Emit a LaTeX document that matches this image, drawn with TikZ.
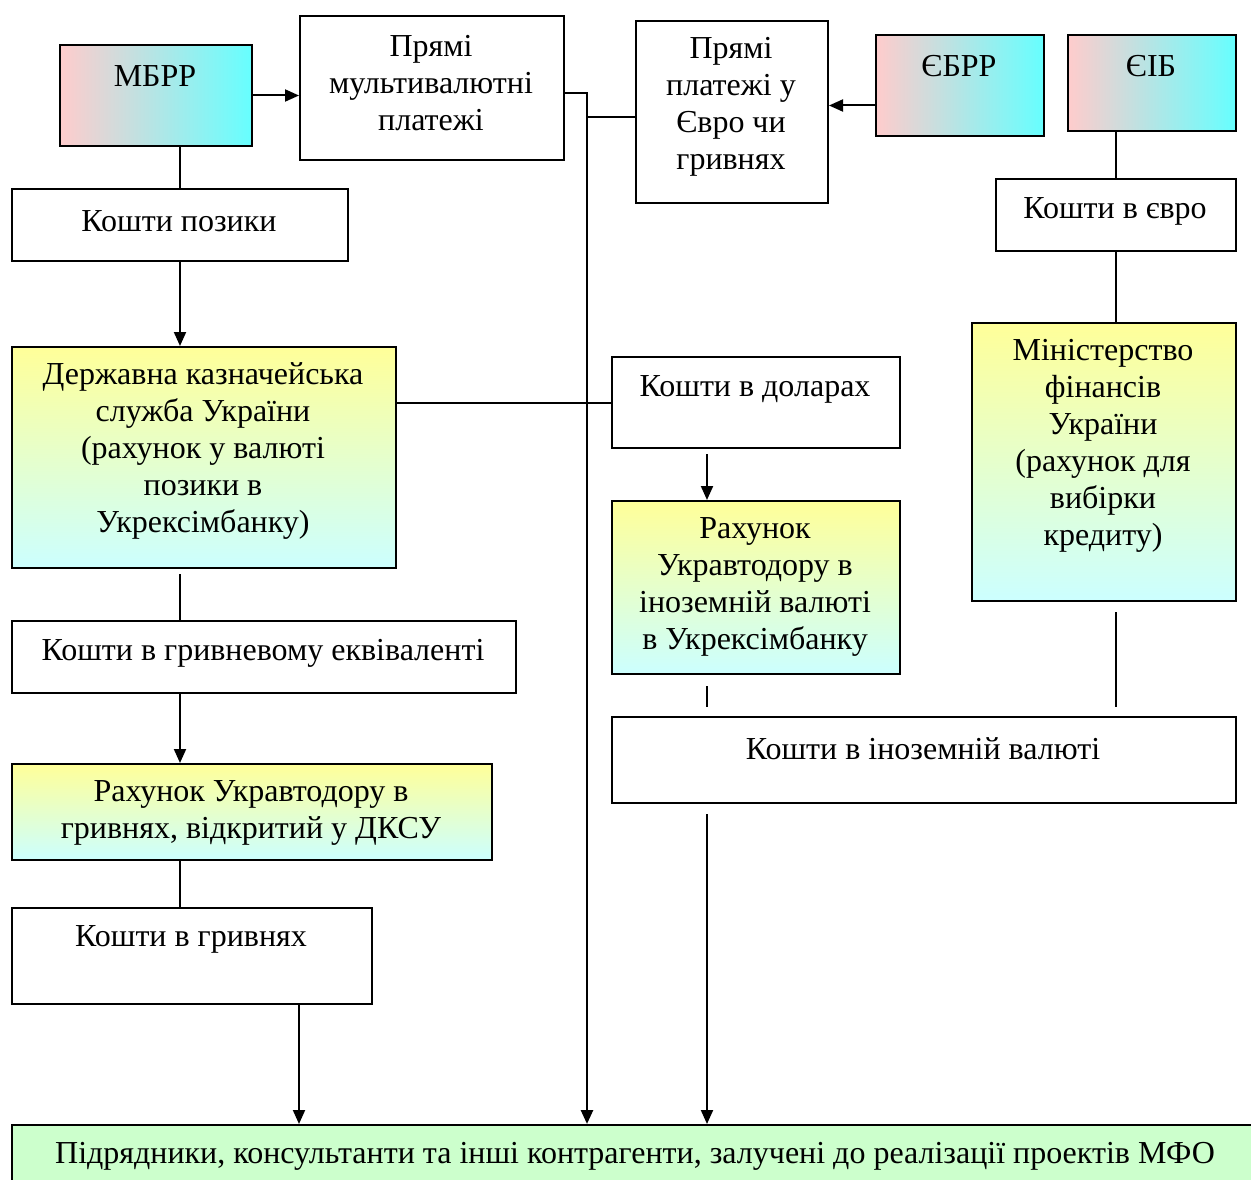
\documentclass[tikz,border=0pt]{standalone}
\usepackage{fontspec}
\setmainfont{Liberation Serif}
\usetikzlibrary{arrows.meta,calc}
\definecolor{pinkL}{RGB}{255,204,204}
\definecolor{greyM}{RGB}{221,221,221}
\definecolor{cyanR}{RGB}{102,255,255}
\definecolor{yelT}{RGB}{255,255,153}
\definecolor{cyanB}{RGB}{204,255,255}
\definecolor{greenF}{RGB}{204,255,204}
\tikzset{
  box/.style={draw=black, line width=2pt, rectangle, inner sep=0pt, anchor=north west},
  wbox/.style={box, fill=white},
  pbox/.style={box, left color=pinkL, middle color=greyM, right color=cyanR},
  ybox/.style={box, top color=yelT, bottom color=cyanB},
  gbox/.style={box, fill=greenF},
  txt/.style={inner sep=0pt, align=center, font=\fontsize{32}{37}\selectfont},
  ln/.style={line width=2pt},
  arr/.style={line width=2pt, -{Triangle[length=14pt,width=12pt]}},
}
\begin{document}
\begin{tikzpicture}[x=1pt,y=-1pt]
\useasboundingbox (0,0) rectangle (1251,1180);
\clip (0,0) rectangle (1251,1180);
\fill[white] (0,0) rectangle (1251,1180);
% boxes
\node[pbox, minimum width=192pt, minimum height=101pt] (mbrr) at (59,44) {};
\node[wbox, minimum width=264pt, minimum height=144pt] (pmp) at (299,15) {};
\node[wbox, minimum width=192pt, minimum height=182pt] (ppe) at (635,20) {};
\node[pbox, minimum width=168pt, minimum height=101pt] (ebrr) at (875,34) {};
\node[pbox, minimum width=168pt, minimum height=96pt] (eib) at (1067,34) {};
\node[wbox, minimum width=336pt, minimum height=72pt] (kpoz) at (11,188) {};
\node[wbox, minimum width=240pt, minimum height=72pt] (keur) at (995,178) {};
\node[ybox, minimum width=384pt, minimum height=221pt] (dksu) at (11,346) {};
\node[wbox, minimum width=288pt, minimum height=91pt] (kdol) at (611,356) {};
\node[ybox, minimum width=264pt, minimum height=278pt] (minfin) at (971,322) {};
\node[ybox, minimum width=288pt, minimum height=173pt] (rfor) at (611,500) {};
\node[wbox, minimum width=504pt, minimum height=72pt] (kgeq) at (11,620) {};
\node[wbox, minimum width=624pt, minimum height=86pt] (kfor) at (611,716) {};
\node[ybox, minimum width=480pt, minimum height=96pt] (rdksu) at (11,763) {};
\node[wbox, minimum width=360pt, minimum height=96pt] (kuah) at (11,907) {};
\node[gbox, minimum width=1260pt, minimum height=80pt] (final) at (11,1124) {};
% texts
\node[txt] (mbrr-t) at (155,76) {МБРР};
\node[txt] (pmp-t) at (431,83) {Прямі\\мультивалютні\\платежі};
\node[txt] (ppe-t) at (731,106.5) {Прямі\\платежі у\\Євро чи\\гривнях};
\node[txt] (ebrr-t) at (959,66) {ЄБРР};
\node[txt] (eib-t) at (1151,66) {ЄІБ};
\node[txt] (kpoz-t) at (179,221) {Кошти позики};
\node[txt] (keur-t) at (1115,211) {Кошти в євро};
\node[txt] (dksu-t) at (203,451) {Державна казначейська\\служба України\\(рахунок у валюті\\позики в\\Укрексімбанку)};
\node[txt] (kdol-t) at (755,389) {Кошти в доларах};
\node[txt] (minfin-t) at (1103,445.5) {Міністерство\\фінансів\\України\\(рахунок для\\вибірки\\кредиту)};
\node[txt] (rfor-t) at (755,586.5) {Рахунок\\Укравтодору в\\іноземній валюті\\в Укрексімбанку};
\node[txt] (kgeq-t) at (263,653) {Кошти в гривневому еквіваленті};
\node[txt] (kfor-t) at (923,749) {Кошти в іноземній валюті};
\node[txt] (rdksu-t) at (251,812.5) {Рахунок Укравтодору в\\гривнях, відкритий у ДКСУ};
\node[txt] (kuah-t) at (191,939) {Кошти в гривнях};
\node[txt] (final-t) at (635,1156) {Підрядники, консультанти та інші контрагенти, залучені до реалізації проектів МФО};
% connectors
\coordinate (trunk) at ($(final.north west)+(576,0)$);
\coordinate (pmpE) at ($(pmp.east)+(0,5)$);
\coordinate (ppeW) at ($(ppe.west)+(0,5)$);
\coordinate (ebrrW) at ($(ebrr.west)+(0,20)$);
\draw[arr] (mbrr.east) -- (mbrr.east -| pmp.west);
\draw[ln] (kpoz.north |- mbrr.south) -- (kpoz.north);
\draw[arr] (kpoz.south) -- (kpoz.south |- dksu.north);
\draw[ln] ($(kpoz.south |- dksu.south)+(0,5)$) -- (kpoz.south |- kgeq.north);
\draw[arr] (kpoz.south |- kgeq.south) -- (kpoz.south |- rdksu.north);
\draw[ln] (kpoz.south |- rdksu.south) -- (kpoz.south |- kuah.north);
\draw[arr] ($(kuah.south west)+(288,0)$) -- ($(final.north west)+(288,0)$);
\draw[arr, line width=2.6pt] (pmpE) -| (trunk);
\draw[ln] (ppeW) -- (ppeW -| trunk);
\draw[ln] (kdol.west) -- (kdol.west -| dksu.east);
\draw[arr] ($(kdol.south west)+(96,5)$) -- ($(rfor.north west)+(96,0)$);
\draw[ln] ($(rfor.south west)+(96,11)$) -- ($(kfor.north west)+(96,-9)$);
\draw[arr] ($(kfor.south west)+(96,10)$) -- ($(final.north west)+(696,0)$);
\draw[arr] (ebrrW) -- (ebrrW -| ppe.east);
\draw[ln] (keur.north |- eib.south) -- (keur.north);
\draw[ln] (keur.south) -- (keur.south |- minfin.north);
\draw[ln] ($(keur.south |- minfin.south)+(0,10)$) -- ($(keur.south |- kfor.north)+(0,-9)$);
\end{tikzpicture}
\end{document}
